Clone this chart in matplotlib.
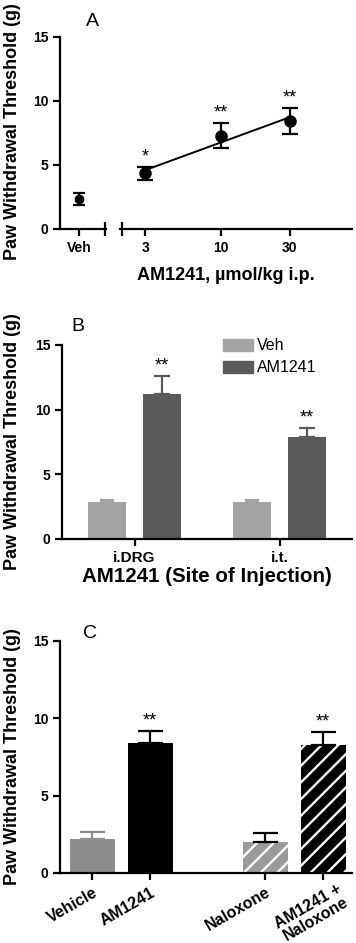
import numpy as np
import matplotlib
matplotlib.use("Agg")
import matplotlib.pyplot as plt
from matplotlib.ticker import FixedLocator, NullFormatter
from matplotlib.patches import Patch

plt.rcParams['font.family'] = ['Liberation Sans', 'DejaVu Sans']
plt.rcParams['hatch.linewidth'] = 1.7

# ---- data ----
# panel A : dose response
veh_mean, veh_err = 2.35, 0.45
doses = [3, 10, 30]
dose_means = [4.35, 7.3, 8.45]
dose_errs = [0.52, 0.98, 1.03]
dose_stars = ['*', '**', '**']

# panel B : site of injection
sites = ['i.DRG', 'i.t.']
b_veh = [2.83, 2.83]
b_veh_err = [0.22, 0.22]
b_am = [11.2, 7.9]
b_am_err = [1.42, 0.68]

# panel C : naloxone
c_labels = ['Vehicle', 'AM1241', 'Naloxone', 'AM1241 +\nNaloxone']
c_pos = [0, 1, 3, 4]
c_means = [2.21, 8.43, 2.0, 8.26]
c_errs = [0.41, 0.77, 0.58, 0.84]
c_stars = ['', '**', '', '**']

W, H = 356, 943
fig = plt.figure(figsize=(W / 100, H / 100), dpi=100)


def frac(x0, y0, x1, y1):
    # pixel box -> figure fraction
    return [x0 / W, 1 - y1 / H, (x1 - x0) / W, (y1 - y0) / H]


def style(ax, left=True, xsize=10):
    for s in ['top', 'right']:
        ax.spines[s].set_visible(False)
    ax.spines['bottom'].set_linewidth(1.6)
    ax.spines['left'].set_linewidth(1.6)
    if not left:
        ax.spines['left'].set_visible(False)
        ax.tick_params(axis='y', left=False, labelleft=False)
    ax.tick_params(width=1.6, length=5, labelsize=10)
    ax.tick_params(axis='x', labelsize=xsize)
    for t in ax.get_xticklabels() + ax.get_yticklabels():
        t.set_fontweight('bold')
    ax.set_ylim(0, 15)
    ax.set_yticks([0, 5, 10, 15])


ylab = 'Paw Withdrawal Threshold (g)'


def ylabel(yc):
    fig.text(13 / W, 1 - yc / H, ylab, rotation=90, ha='center', va='center',
             fontsize=13, fontweight='bold')


# ---------------- A ----------------
a1 = fig.add_axes(frac(60, 37, 106, 229))
a2 = fig.add_axes(frac(120, 37, 352, 229))
a1.errorbar([0], [veh_mean], yerr=[veh_err], fmt='o', color='black',
            ms=6, capsize=4, elinewidth=1.6, capthick=1.6)
a1.set_xlim(-1, 1.42)
a1.set_xticks([0])
a1.set_xticklabels(['Veh'])
a1.xaxis.set_minor_locator(FixedLocator([1.38]))
a1.tick_params(axis='x', which='minor', direction='inout', length=10, width=1.6)
style(a1)

a2.errorbar(doses, dose_means, yerr=dose_errs, fmt='o', color='black',
            ms=8, capsize=6, elinewidth=1.6, capthick=1.6)
k, b0 = np.polyfit(np.log10(doses), dose_means, 1)
xs = np.array([doses[0], doses[-1]])
a2.plot(xs, k * np.log10(xs) + b0, color='black', lw=1.4)
a2.set_xscale('log')
a2.set_xlim(2, 81)
a2.xaxis.set_major_locator(FixedLocator(doses))
a2.set_xticklabels([str(d) for d in doses])
a2.xaxis.set_minor_locator(FixedLocator([2.05]))
a2.xaxis.set_minor_formatter(NullFormatter())
a2.tick_params(axis='x', which='minor', direction='inout', length=10, width=1.6)
style(a2, left=False)
for d, m, e, s in zip(doses, dose_means, dose_errs, dose_stars):
    a2.text(d, m + e + 0.1, s, ha='center', va='bottom', fontsize=13)
ylabel(132)
fig.text(92 / W, 1 - 22 / H, 'A', ha='center', va='center', fontsize=14)
fig.text(226 / W, 1 - 276 / H, 'AM1241, µmol/kg i.p.', ha='center', va='center',
         fontsize=13, fontweight='bold')

# ---------------- B ----------------
bx = fig.add_axes(frac(62, 345, 352, 539))
x = np.arange(len(sites))
w = 0.265
off = 0.189
col_veh, col_am = '#a3a3a3', '#5a5a5a'
bx.bar(x - off, b_veh, w, color=col_veh,
       yerr=[np.zeros(2), b_veh_err], ecolor=col_veh,
       error_kw=dict(capsize=5, elinewidth=1.6, capthick=1.6))
bx.bar(x + off, b_am, w, color=col_am,
       yerr=[np.zeros(2), b_am_err], ecolor=col_am,
       error_kw=dict(capsize=6, elinewidth=1.6, capthick=1.6))
for i in range(len(sites)):
    bx.text(x[i] + off, b_am[i] + b_am_err[i] + 0.1, '**', ha='center',
            va='bottom', fontsize=13)
bx.set_xlim(-0.5, 1.5)
bx.set_xticks(x)
bx.set_xticklabels(sites)
style(bx, xsize=11)
ylabel(442)
bx.legend(handles=[Patch(color=col_veh, label='Veh'), Patch(color=col_am, label='AM1241')],
          loc='upper left', bbox_to_anchor=(0.555, 1.035), frameon=False,
          fontsize=11.5, handlelength=1.9, handleheight=0.8, handletextpad=0.25,
          labelspacing=0.45, borderpad=0, borderaxespad=0)
fig.text(78 / W, 1 - 327 / H, 'B', ha='center', va='center', fontsize=14)
fig.text(207 / W, 1 - 577 / H, 'AM1241 (Site of Injection)', ha='center',
         va='center', fontsize=14.8, fontweight='bold')

# ---------------- C ----------------
cx = fig.add_axes(frac(60, 641, 352, 873))
faces = ['#8c8c8c', 'black', '#9a9a9a', 'black']
hatches = [None, None, '//', '//']
ecols = ['#8c8c8c', 'black', 'black', 'black']
for p, m, e, f, h, ec in zip(c_pos, c_means, c_errs, faces, hatches, ecols):
    cx.bar(p, m, 0.78, color=f, edgecolor='white' if h else f, hatch=h, lw=0)
    cx.errorbar(p, m, yerr=[[0], [e]], color=ec, capsize=9, elinewidth=1.6,
                capthick=1.6, fmt='none')
for p, m, e, s in zip(c_pos, c_means, c_errs, c_stars):
    if s:
        cx.text(p, m + e + 0.1, s, ha='center', va='bottom', fontsize=13)
cx.set_xlim(-0.56, 4.5)
cx.set_xticks(c_pos)
# two-line label is placed by hand (shifted along the text like in the original)
cx.set_xticklabels([l if '\n' not in l else '' for l in c_labels],
                   rotation=30, ha='right', rotation_mode='anchor')
style(cx, xsize=11.5)
for p, l in zip(c_pos, c_labels):
    if '\n' in l:
        cx.annotate(l, xy=(p, 0), xycoords=('data', 'axes fraction'),
                    xytext=(9.5, -6), textcoords='offset points', rotation=30,
                    ha='right', va='top', rotation_mode='anchor',
                    fontsize=11.5, fontweight='bold', linespacing=1.0,
                    annotation_clip=False)
ylabel(757)
fig.text(90 / W, 1 - 633 / H, 'C', ha='center', va='center', fontsize=14)

fig.savefig('out.png', dpi=100)
